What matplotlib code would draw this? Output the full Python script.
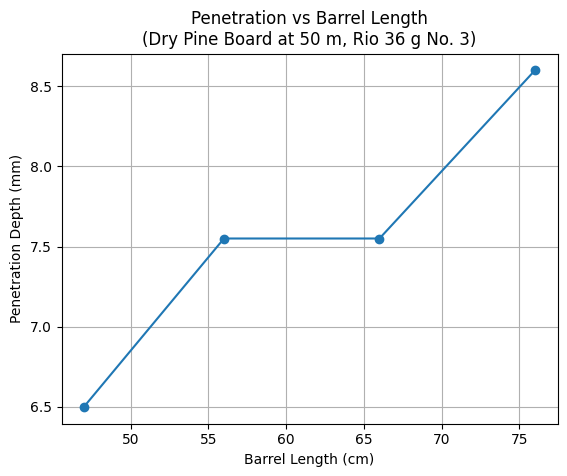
import matplotlib
matplotlib.use("Agg")
import matplotlib.pyplot as plt

barrel_length = [47, 56, 66, 76]
penetration = [6.5, 7.55, 7.55, 8.6]

fig = plt.figure(figsize=(5.67, 4.76), dpi=100)
ax = fig.add_axes([61.5/567, 1-423.5/476, (557.5-61.5)/567, (423.5-53.5)/476])
ax.plot(barrel_length, penetration, marker='o')
ax.set_title("Penetration vs Barrel Length\n(Dry Pine Board at 50 m, Rio 36 g No. 3)")
ax.set_xlabel("Barrel Length (cm)")
ax.set_ylabel("Penetration Depth (mm)")
ax.grid(True)
fig.savefig("out.png", dpi=100)
